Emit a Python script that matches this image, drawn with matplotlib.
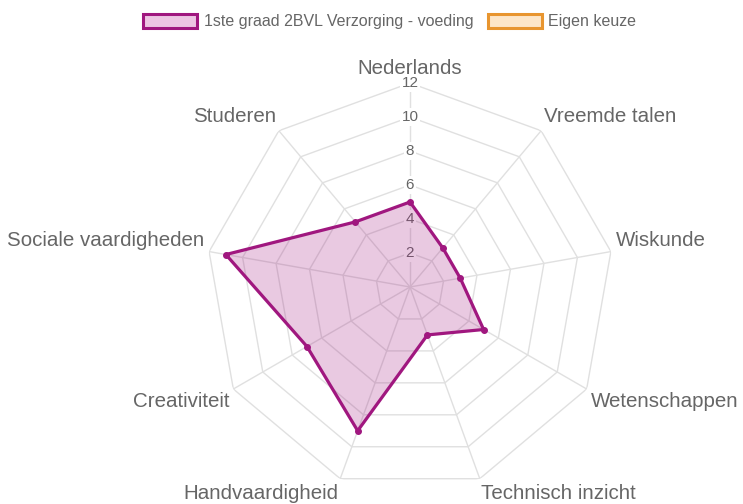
import numpy as np
import matplotlib
matplotlib.use("Agg")
import matplotlib.pyplot as plt
from matplotlib.patches import Patch

plt.rcParams['font.family'] = ['Liberation Sans', 'DejaVu Sans']

vakken = ["Nederlands", "Vreemde talen", "Wiskunde", "Wetenschappen",
          "Technisch inzicht", "Handvaardigheid", "Creativiteit",
          "Sociale vaardigheden", "Studeren"]
verzorging = [5, 3, 3, 5, 3, 9, 7, 11, 5]
eigen_keuze = []
ringen = [2, 4, 6, 8, 10, 12]

series_names = ["1ste graad 2BVL Verzorging - voeding", "Eigen keuze"]
paars = "#a0177f"
oranje = "#e8952f"
grijs = "#666666"
lijn = "#e0e0e0"

fig = plt.figure(figsize=(7.43, 5.04), dpi=100)
W, H = 743, 504
cx, cy, R = 410, 287, 204
ax = fig.add_axes([(cx - R) / W, (H - cy - R) / H, 2 * R / W, 2 * R / H],
                  projection="polar")
ax.set_theta_zero_location("N")
ax.set_theta_direction(-1)
ax.set_ylim(0, 12)
ax.grid(False)
ax.spines["polar"].set_visible(False)
ax.set_xticks([])
ax.set_yticks([])
ax.patch.set_alpha(0)

n = len(vakken)
hoeken = np.linspace(0, 2 * np.pi, n, endpoint=False)
gesloten = np.append(hoeken, hoeken[0])

# polygon grid + spokes
for r in ringen:
    ax.plot(gesloten, [r] * (n + 1), color=lijn, lw=1, zorder=1)
for t in hoeken:
    ax.plot([t, t], [0, 12], color=lijn, lw=1, zorder=1)

# tick labels with white backdrop (under the dataset)
for r in ringen:
    ax.text(0, r, str(r), ha="center", va="center", fontsize=11, color=grijs,
            zorder=2, bbox=dict(boxstyle="square,pad=0.1", fc="white", ec="none"))

# dataset
waarden = np.append(verzorging, verzorging[0])
ax.fill(gesloten, waarden, color=paars, alpha=0.23, lw=0, zorder=3)
ax.plot(gesloten, waarden, color=paars, lw=2.3, zorder=4)
ax.plot(hoeken, verzorging, "o", color=paars, ms=4, zorder=5)

# point labels
px = 0.72
for t, naam in zip(hoeken, vakken):
    s, c = np.sin(t), np.cos(t)
    if abs(s) < 1e-6:
        ha = "center"
    elif s > 0:
        ha = "left"
    else:
        ha = "right"
    dy = 10 if c > 0 else -10
    ax.annotate(naam, xy=(t, 12), xytext=(5 * s * px, (5 * c + dy) * px),
                textcoords="offset points", ha=ha, va="center",
                fontsize=14.8, color=grijs, annotation_clip=False)

handles = [Patch(facecolor="#edc5e3", edgecolor=paars, lw=2.2),
           Patch(facecolor="#fde6c8", edgecolor=oranje, lw=2.2)]
fig.legend(handles, series_names, loc="center", bbox_to_anchor=(0.5245, 0.957),
           ncol=2, frameon=False, fontsize=11.5, handlelength=3.4,
           handleheight=1.0, handletextpad=0.4, columnspacing=0.9,
           labelcolor=grijs)

fig.savefig("out.png", dpi=100)
